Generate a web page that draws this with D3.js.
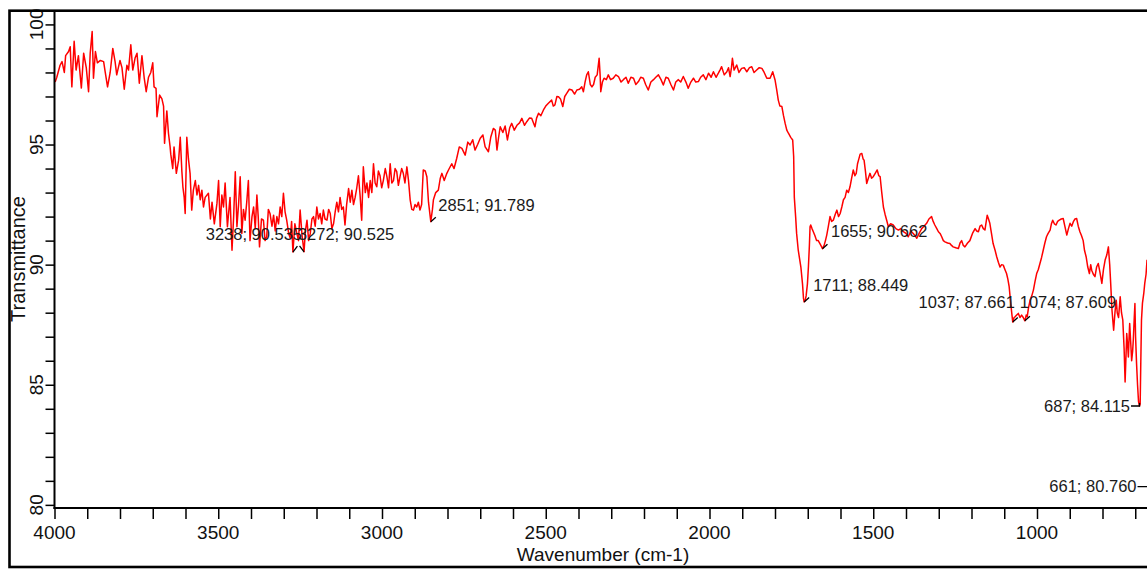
<!DOCTYPE html>
<html>
<head>
<meta charset="UTF-8" />
<title>FTIR spectrum</title>
<style>
  body { margin: 0; background: #fff; overflow: hidden; }
  svg { display: block; font-family: Arial, "Liberation Sans", sans-serif; }
</style>
</head>
<body>
<svg id="chart" width="1147" height="569"></svg>
<script src="https://d3js.org/d3.v7.min.js"></script>
<script>
// spectrum: [wavenumber cm-1, transmittance %]
const spectrumHigh = [
  [3998,97.6],[3993,97.8],[3983,98.3],[3977,98.45],[3970,98.0],[3966,98.7],[3957,98.87],[3952,99.07],[3947,97.4],[3940,99.3],
  [3934,98.1],[3927,98.7],[3918,97.35],[3911,98.8],[3903,98.2],[3896,97.2],[3891,98.8],[3885,99.7],[3881,97.76],[3875,98.87],
  [3869,98.4],[3860,98.5],[3850,98.45],[3845,98.0],[3838,97.4],[3830,98.0],[3822,99.0],[3815,98.45],[3810,97.9],[3800,98.5],
  [3794,98.2],[3787,97.3],[3779,98.3],[3774,98.1],[3767,99.15],[3761,98.1],[3754,98.6],[3748,98.8],[3741,97.55],[3733,98.7],
  [3726,97.76],[3720,97.2],[3713,97.8],[3706,98.0],[3700,98.4],[3696,97.4],[3690,97.34],[3687,96.16],[3679,97.06],[3672,96.9],
  [3667,96.6],[3664,95.05],[3657,96.4],[3652,95.47],[3647,94.9],[3645,94.6],[3639,94.0],[3635,94.9],[3628,93.8],[3621,94.35],
  [3616,95.3],[3611,93.87],[3608,93.24],[3604,92.8],[3601,92.13],[3596,95.3],[3591,94.4],[3586,93.8],[3581,92.27],[3576,93.1],
  [3570,93.5],[3565,92.9],[3560,93.3],[3555,92.7],[3550,93.1],[3545,92.4],[3540,92.8],[3530,92.97],[3524,91.9],[3519,92.6],
  [3512,91.7],[3504,92.55],[3499,93.5],[3494,91.58],[3489,92.9],[3484,92.4],[3479,93.4],[3472,91.58],[3468,92.2],[3464,92.8],
  [3458,90.6],[3453,92.0],[3448,93.87],[3443,91.58],[3438,92.5],[3433,93.66],[3428,91.3],[3423,92.3],[3418,91.85],[3413,92.6],
  [3408,93.5],[3403,91.0],[3397,92.0],[3392,92.4],[3387,91.5],[3382,92.9],[3378,92.0],[3374,90.74],[3368,91.9],[3362,91.85],
  [3357,91.0],[3352,91.16],[3347,92.3],[3342,92.13],[3336,91.6],[3331,92.06],[3326,91.4],[3321,92.0],[3316,91.7],[3311,92.4],
  [3306,92.0],[3301,92.97],[3296,92.2],[3291,91.85],[3285,91.3],[3280,91.1],[3276,91.8],[3272,90.525],[3266,91.7],[3260,91.3],
  [3255,91.0],[3250,92.27],[3244,91.2],[3238,90.535],[3234,91.4],[3229,91.85],[3224,91.0],[3219,91.3],[3214,91.9],[3209,92.0],
  [3204,91.6],[3199,92.4],[3194,91.9],[3189,92.13],[3184,91.7],[3179,92.27],[3174,91.9],[3168,91.85],[3163,92.3],[3158,92.13],
  [3153,91.5],[3148,91.7],[3143,92.2],[3138,92.6],[3133,92.2],[3128,92.8],[3123,92.3],[3118,92.4],[3113,91.65],[3108,92.5],
  [3102,93.17],[3097,92.6],[3092,93.1],[3087,92.5],[3082,92.8],[3077,93.2],[3072,93.7],[3067,92.9],[3062,91.85],[3057,94.07],
  [3051,93.0],[3046,93.4],[3041,92.8],[3036,93.5],[3031,93.0],[3026,94.2],[3021,93.4],[3016,93.24],[3011,93.9],[3006,93.7],
  [3001,93.2],[2996,93.5],[2990,94.0],[2985,93.66],[2980,93.2],[2975,94.2],[2970,93.4],[2965,93.5],[2960,94.0],[2955,93.87],
  [2950,93.3],[2945,93.66],[2940,94.0],[2935,93.8],[2930,93.4],[2924,94.07],[2919,93.5],[2914,92.7],[2909,92.3],[2904,92.27],
  [2899,92.5],[2894,92.4],[2889,92.6],[2884,92.27],[2879,92.5],[2874,93.94],[2868,93.9],[2863,93.66],[2858,92.6],[2851,91.789],
  [2846,92.3],[2843,92.7],[2836,93.0],[2828,93.1],[2822,93.6],[2817,93.8],[2810,93.5],[2802,93.8]
];

const spectrumMid = [
  [2797,93.94],[2787,94.2],[2780,94.0],[2772,94.42],[2764,94.9],[2756,94.84],[2746,94.56],[2738,95.1],[2731,94.98],[2723,95.2],
  [2716,94.77],[2708,95.0],[2700,95.26],[2692,95.4],[2685,94.9],[2675,94.7],[2668,95.3],[2660,95.67],[2654,95.6],[2649,94.77],
  [2644,95.3],[2639,95.74],[2631,95.5],[2624,95.77],[2617,95.19],[2610,95.7],[2604,95.88],[2596,95.6],[2588,95.8],[2580,95.9],
  [2573,96.09],[2565,95.8],[2558,95.95],[2550,96.1],[2543,96.09],[2533,95.74],[2528,96.1],[2522,96.3],[2515,96.2],[2507,96.44],
  [2500,96.6],[2492,96.72],[2482,96.85],[2477,96.6],[2472,96.65],[2466,97.0],[2461,96.99],[2455,96.9],[2448,96.58],[2442,97.0],
  [2436,97.13],[2428,97.3],[2420,97.27],[2412,97.1],[2405,97.27],[2397,97.3],[2390,97.4],[2385,97.2],[2380,97.6],[2375,97.9],
  [2370,98.03],[2364,97.5],[2359,97.4],[2354,97.5],[2349,97.8],[2343,97.9],[2337,98.59],[2334,97.9],[2332,97.2],[2327,97.6],
  [2322,97.76],[2315,97.7],[2309,97.9],[2302,97.7],[2294,97.76],[2286,97.9],[2278,97.83],[2270,97.6],[2263,97.7],[2255,97.8],
  [2248,97.55],[2240,97.8],[2232,97.76],[2225,97.5],[2217,97.62],[2210,97.8],[2202,97.76],[2195,97.5],[2187,97.27],[2179,97.6],
  [2171,97.7],[2164,97.8],[2156,97.9],[2148,97.7],[2141,97.48],[2133,97.8],[2126,97.76],[2118,97.5],[2110,97.27],[2103,97.6],
  [2095,97.7],[2088,97.6],[2080,97.83],[2072,97.6],[2065,97.34],[2057,97.6],[2049,97.76],[2042,97.6],[2034,97.62],[2027,97.8],
  [2019,97.9],[2011,97.7],[2003,97.97],[1995,97.8],[1988,98.03],[1980,97.8],[1973,97.97],[1968,98.1],[1963,98.24],[1955,97.9],
  [1947,98.03],[1942,98.2],[1937,97.83],[1933,98.2],[1930,98.59],[1925,98.1],[1917,98.31],[1910,98.0],[1902,98.17],[1894,98.2],
  [1886,98.03],[1878,98.2],[1871,98.24],[1864,98.0],[1856,98.1],[1848,98.2],[1840,98.17],[1833,98.0],[1825,97.76],[1815,97.76],
  [1807,98.03],[1800,97.7]
];

const spectrumLow = [
  [1795,97.3],[1790,96.85],[1785,96.6],[1779,96.58],[1774,96.2],[1769,95.88],[1764,95.6],[1759,95.47],[1752,95.3],[1746,95.19],
  [1743,94.5],[1741,92.8],[1737,92.0],[1734,91.3],[1729,90.6],[1721,89.9],[1716,89.2],[1713,88.6],[1711,88.449],[1708,88.5],
  [1705,88.7],[1701,89.2],[1698,89.9],[1695,90.8],[1693,91.58],[1691,91.65],[1687,91.5],[1683,91.37],[1678,91.2],[1673,91.0],
  [1668,91.0],[1662,90.85],[1658,90.75],[1655,90.662],[1650,90.8],[1646,91.0],[1642,91.23],[1637,91.6],[1632,92.0],[1627,91.8],
  [1622,91.85],[1616,92.1],[1611,92.27],[1606,92.0],[1601,92.13],[1596,92.4],[1591,92.7],[1586,92.8],[1581,93.1],[1576,93.0],
  [1571,93.24],[1566,93.6],[1561,93.94],[1556,93.7],[1552,93.8],[1548,94.2],[1545,94.35],[1540,94.6],[1535,94.63],[1531,94.4],
  [1528,94.35],[1524,93.9],[1520,93.38],[1515,93.6],[1510,93.8],[1505,93.6],[1500,93.66],[1494,93.8],[1488,93.94],[1483,93.7],
  [1479,93.66],[1474,93.0],[1469,92.4],[1464,92.1],[1459,91.85],[1454,91.58],[1447,91.7],[1439,91.65],[1431,91.5],[1423,91.44],
  [1416,91.5],[1408,91.37],[1400,91.3],[1393,91.16],[1385,91.4],[1378,91.3],[1372,91.2],[1367,91.1],[1360,91.3],[1352,91.5],
  [1345,91.6],[1337,91.72],[1330,91.9],[1322,92.0],[1317,91.8],[1312,91.65],[1306,91.5],[1301,91.37],[1296,91.3],[1291,91.16],
  [1286,91.0],[1281,90.95],[1273,90.9],[1266,90.88],[1261,90.8],[1256,90.74],[1248,90.7],[1240,90.67],[1235,90.9],[1230,91.0],
  [1225,90.8],[1220,90.74],[1212,90.9],[1205,91.0],[1197,91.3],[1189,91.5],[1184,91.4],[1179,91.37],[1174,91.6],[1169,91.65],
  [1164,91.5],[1159,91.44],[1155,91.8],[1152,92.06],[1148,91.9],[1144,91.72],[1139,91.3],[1134,90.88],[1128,90.6],[1123,90.33],
  [1118,90.1],[1113,89.9],[1108,90.0],[1103,89.98],[1098,89.8],[1093,89.63],[1089,89.4],[1085,89.08],[1081,88.5],[1077,87.97],
  [1074,87.609],[1070,87.8],[1067,87.83],[1062,87.9],[1057,87.97],[1052,87.8],[1047,87.9],[1042,87.8],[1037,87.661],[1033,87.9],
  [1030,87.83],[1026,88.2],[1021,88.52],[1016,88.7],[1011,88.94],[1006,89.3],[1001,89.63],[996,89.8],[991,90.05],[986,90.3],
  [981,90.6],[976,90.9],[971,91.16],[966,91.3],[960,91.44],[956,91.7],[952,91.85],[947,91.7],[942,91.65],[937,91.8],
  [932,91.85],[926,91.9],[920,91.92],[915,91.6],[909,91.23],[904,91.5],[899,91.72],[894,91.6],[889,91.79],[884,91.9],
  [879,91.92],[874,91.6],[869,91.37],[864,91.2],[859,91.0],[855,90.6],[850,90.33],[845,89.9],[840,89.63],[836,90.0],
  [833,89.77],[828,89.6],[823,89.5],[818,89.9],[813,90.05],[808,89.7],[802,89.22],[797,89.8],[792,90.19],[787,90.4],
  [782,90.74],[778,90.0],[775,89.22],[771,88.1],[768,87.6],[766,87.27],[762,88.0],[758,88.52],[755,88.0],[751,87.8],
  [748,88.3],[746,88.66],[742,88.0],[738,87.69],[734,86.5],[731,85.12],[728,86.3],[726,87.13],[723,86.6],[721,86.16],
  [719,86.9],[717,87.55],[714,86.8],[711,86.0],[708,86.4],[706,86.85],[703,87.8],[701,88.38],[699,87.0],[696,85.88],
  [693,85.0],[690,84.3],[687,84.115],[685,84.2],[683,86.0],[681,87.69],[678,88.4],[674,88.8],[671,89.22],[667,89.6],
  [664,90.2]
];

// picked peaks
const peakWn = [3238, 3272, 2851, 1711, 1655, 1037, 1074, 687, 661];
const peakT = [90.535, 90.525, 91.789, 88.449, 90.662, 87.661, 87.609, 84.115, 80.760];

// axis ticks
const xMajor = [4000, 3500, 3000, 2500, 2000, 1500, 1000];
const yMajor = [80, 85, 90, 95, 100];

// where each peak label sits relative to its point
const peakLayout = [
  { anchor: "end",   dx: -2,    dy: -12,   mark: "caretL" },
  { anchor: "start", dx: 5,     dy: -12,   mark: "caretR" },
  { anchor: "start", dx: 7.5,   dy: -11,   mark: "diag" },
  { anchor: "start", dx: 9,     dy: -11,   mark: "diag" },
  { anchor: "start", dx: 8.5,   dy: -12,   mark: "diag" },
  { anchor: "end",   dx: -10,   dy: -12.5, mark: "diag" },
  { anchor: "start", dx: 7,     dy: -14,   mark: "diag" },
  { anchor: "end",   dx: -9.5,  dy: 5.5,   mark: "lead" },
  { anchor: "end",   dx: -11.5, dy: 5.5,   mark: "lead" }
];

const spectrum = spectrumHigh.concat(spectrumMid, spectrumLow);

const plotLeft = 54.5, plotTop = 10, plotBottom = 508, plotRight = 1168;
const x = d3.scaleLinear().domain([4000, 600]).range([plotLeft, plotRight]);
const y = d3.scaleLinear().domain([79.87, 100.6]).range([plotBottom, plotTop]);

const svg = d3.select("#chart");

svg.append("defs").append("clipPath").attr("id", "plotClip")
  .append("rect")
  .attr("x", plotLeft).attr("y", plotTop)
  .attr("width", plotRight - plotLeft).attr("height", plotBottom - plotTop);

// y axis ticks (every 1 %)
const gy = svg.append("g")
  .attr("transform", `translate(${plotLeft},0)`)
  .call(d3.axisLeft(y).tickValues(d3.range(80, 101, 1)).tickSize(9).tickFormat(""));
gy.select(".domain").remove();
gy.selectAll("line").attr("stroke", "#000").attr("stroke-width", 1.5);

// x axis ticks (every 100 cm-1)
const gx = svg.append("g")
  .attr("transform", `translate(0,${plotBottom})`)
  .call(d3.axisBottom(x).tickValues(d3.range(700, 4001, 100)).tickSize(11).tickFormat(""));
gx.select(".domain").remove();
gx.selectAll("line").attr("stroke", "#000").attr("stroke-width", 1.5);

// tick labels
svg.append("g").selectAll("text")
  .data(yMajor)
  .join("text")
  .attr("transform", d => `translate(43,${y(d)}) rotate(-90)`)
  .attr("text-anchor", "middle")
  .attr("font-size", 19)
  .attr("fill", "#111")
  .text(d => d);

svg.append("g").selectAll("text")
  .data(xMajor)
  .join("text")
  .attr("x", d => x(d))
  .attr("y", 539)
  .attr("text-anchor", "middle")
  .attr("font-size", 19)
  .attr("fill", "#111")
  .text(d => d);

// axis titles
svg.append("text")
  .attr("x", 603).attr("y", 561)
  .attr("text-anchor", "middle")
  .attr("font-size", 19)
  .attr("fill", "#111")
  .text("Wavenumber (cm-1)");

svg.append("text")
  .attr("transform", "translate(25,259) rotate(-90)")
  .attr("text-anchor", "middle")
  .attr("font-size", 20)
  .attr("fill", "#111")
  .text("Transmittance");

// spectrum
svg.append("path")
  .datum(spectrum)
  .attr("clip-path", "url(#plotClip)")
  .attr("fill", "none")
  .attr("stroke", "#ff0000")
  .attr("stroke-width", 1.5)
  .attr("stroke-linejoin", "round")
  .attr("d", d3.line().x(d => x(d[0])).y(d => y(d[1])));

// peak labels and their little markers
const peaks = peakWn.map((wn, i) => ({ wn, t: peakT[i], ...peakLayout[i] }));
const gp = svg.append("g");

peaks.forEach(p => {
  const px = x(p.wn), py = y(p.t);
  let mark;
  if (p.mark === "caretL") mark = [[px, py], [px - 4.5, py - 6]];
  else if (p.mark === "caretR") mark = [[px, py], [px + 4.5, py - 6]];
  else if (p.mark === "diag") mark = [[px, py], [px + 5, py - 4.5]];
  else mark = [[px + p.dx + 1, py], [px, py], [px, py - 3]];
  gp.append("path")
    .attr("d", d3.line()(mark))
    .attr("fill", "none")
    .attr("stroke", "#000")
    .attr("stroke-width", 1.3);
  gp.append("text")
    .attr("x", px + p.dx)
    .attr("y", py + p.dy)
    .attr("text-anchor", p.anchor)
    .attr("font-size", 16.5)
    .attr("fill", "#1a1a1a")
    .text(`${p.wn}; ${p.t.toFixed(3)}`);
});

// axis lines and outer frame
svg.append("line")
  .attr("x1", plotLeft).attr("x2", plotLeft).attr("y1", plotTop).attr("y2", plotBottom + 1)
  .attr("stroke", "#000").attr("stroke-width", 2);
svg.append("line")
  .attr("x1", plotLeft - 1).attr("x2", 1200).attr("y1", plotBottom).attr("y2", plotBottom)
  .attr("stroke", "#000").attr("stroke-width", 2);
svg.append("rect")
  .attr("x", 9.5).attr("y", 10.7)
  .attr("width", 1200).attr("height", 556.3)
  .attr("fill", "none")
  .attr("stroke", "#000")
  .attr("stroke-width", 2.6);
</script>
</body>
</html>
